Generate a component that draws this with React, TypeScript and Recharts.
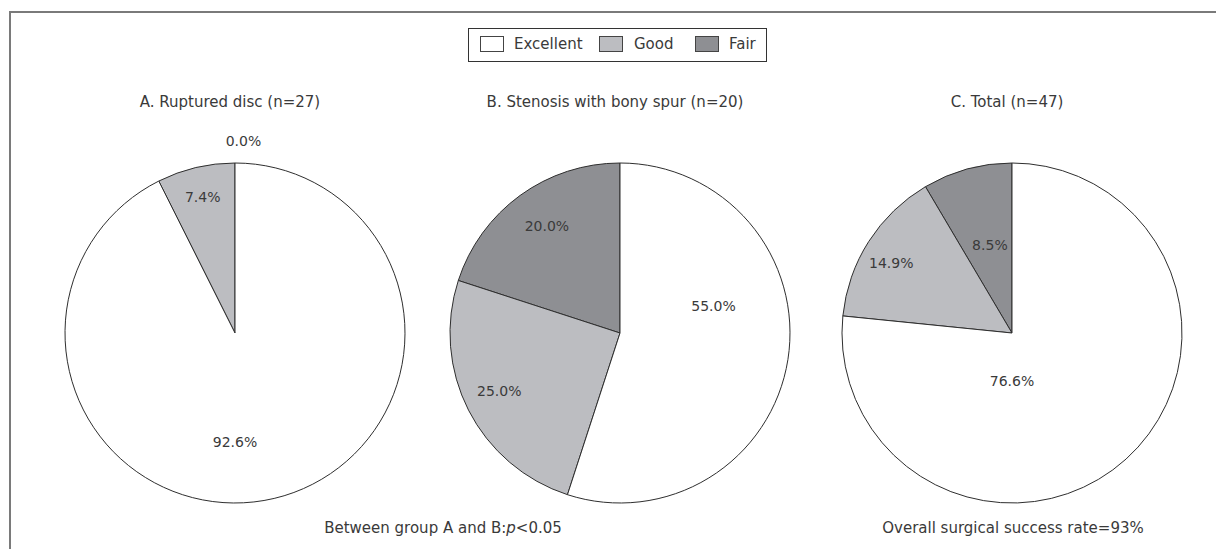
import React from 'react';
import { PieChart, Pie, Cell } from 'recharts';

// ---- data ----
const categories = ['Fair', 'Good', 'Excellent'];
const groupAValues = [0.0, 7.4, 92.6];
const groupBValues = [20.0, 25.0, 55.0];
const groupCValues = [8.5, 14.9, 76.6];
const chartTitles = ['A. Ruptured disc (n=27)', 'B. Stenosis with bony spur (n=20)', 'C. Total (n=47)'];
const legendLabels = ['Excellent', 'Good', 'Fair'];
const noteAB = ['Between group A and B:', 'p', '<0.05'];
const noteTotal = 'Overall surgical success rate=93%';

// ---- style / layout ----
const W = 1216;
const H = 549;
const FONT = '"DejaVu Sans", sans-serif';
const TEXT = '#3a3a3a';
const STROKE = '#2e2e2e';
const COLORS: Record<string, string> = { Excellent: '#ffffff', Good: '#bcbdc1', Fair: '#8e8f93' };
const pieCenters = [
  { cx: 230, cy: 328, r: 170 },
  { cx: 615, cy: 328, r: 170 },
  { cx: 1007, cy: 328, r: 170 },
];
// label placement inside each pie, in units of radius (dx right, dy up), per category order
const labelOffsets = [
  [[0.05, 1.13], [-0.19, 0.8], [0.0, -0.64]],
  [[-0.43, 0.63], [-0.71, -0.34], [0.55, 0.16]],
  [[-0.13, 0.52], [-0.71, 0.41], [0.0, -0.28]],
];
// legend item x positions inside the legend box: [swatchLeft, textLeft]
const legendSlots = [
  [11, 45],
  [130, 165],
  [226, 260],
];

const seriesList = [groupAValues, groupBValues, groupCValues].map((vals) =>
  categories.map((name, i) => ({ name, value: vals[i] }))
);

const makeLabel = (p: number) => (props: any) => {
  const pc = pieCenters[p];
  const cx = typeof props.cx === 'number' ? props.cx : pc.cx;
  const cy = typeof props.cy === 'number' ? props.cy : pc.cy;
  const r = typeof props.outerRadius === 'number' ? props.outerRadius : pc.r;
  const [dx, dy] = labelOffsets[p][props.index];
  return (
    <text
      x={cx + dx * r}
      y={cy - dy * r}
      textAnchor="middle"
      dominantBaseline="central"
      fill={TEXT}
      fontSize={14}
      fontFamily={FONT}
    >
      {Number(props.value).toFixed(1)}%
    </text>
  );
};

export default function App() {
  return (
    <div style={{ position: 'relative', width: W, height: H, background: '#fff', overflow: 'hidden', fontFamily: FONT, color: TEXT }}>
      <style>{`body{margin:0;}`}</style>
      {/* frame */}
      <div
        style={{
          position: 'absolute',
          left: 9,
          top: 11,
          width: W,
          height: H,
          borderTop: '2px solid #7a7a7a',
          borderLeft: '2px solid #7a7a7a',
        }}
      />
      <div style={{ position: 'absolute', left: 0, top: 0 }}>
        <PieChart width={W} height={H}>
          {seriesList.map((data, p) => (
            <Pie
              key={p}
              data={data}
              dataKey="value"
              nameKey="name"
              cx={pieCenters[p].cx}
              cy={pieCenters[p].cy}
              outerRadius={pieCenters[p].r}
              innerRadius={0}
              startAngle={90}
              endAngle={450}
              stroke={STROKE}
              strokeWidth={1}
              label={makeLabel(p)}
              labelLine={false}
              isAnimationActive={false}
            >
              {data.map((d) => (
                <Cell key={d.name} fill={COLORS[d.name]} stroke={STROKE} strokeWidth={1} />
              ))}
            </Pie>
          ))}
        </PieChart>
      </div>
      {/* legend */}
      <div
        style={{
          position: 'absolute',
          left: 468,
          top: 28,
          width: 299,
          height: 34,
          border: '1.5px solid #333',
          boxSizing: 'border-box',
          fontSize: 15,
        }}
      >
        {legendLabels.map((l, i) => (
          <React.Fragment key={l}>
            <span
              style={{
                position: 'absolute',
                left: legendSlots[i][0],
                top: 7,
                width: 24,
                height: 16,
                boxSizing: 'border-box',
                background: COLORS[l],
                border: '1px solid #444',
              }}
            />
            <span style={{ position: 'absolute', left: legendSlots[i][1], top: 5, lineHeight: '20px', whiteSpace: 'nowrap' }}>{l}</span>
          </React.Fragment>
        ))}
      </div>
      {/* titles */}
      {chartTitles.map((t, i) => (
        <div
          key={t}
          style={{
            position: 'absolute',
            left: pieCenters[i].cx - 200,
            width: 400,
            top: 92,
            textAlign: 'center',
            fontSize: 15,
            lineHeight: '20px',
          }}
        >
          {t}
        </div>
      ))}
      {/* notes */}
      <div style={{ position: 'absolute', left: 243, width: 400, top: 518, textAlign: 'center', fontSize: 15, lineHeight: '20px' }}>
        {noteAB[0]}
        <i>{noteAB[1]}</i>
        {noteAB[2]}
      </div>
      <div style={{ position: 'absolute', left: 813, width: 400, top: 518, textAlign: 'center', fontSize: 15, lineHeight: '20px' }}>
        {noteTotal}
      </div>
    </div>
  );
}
